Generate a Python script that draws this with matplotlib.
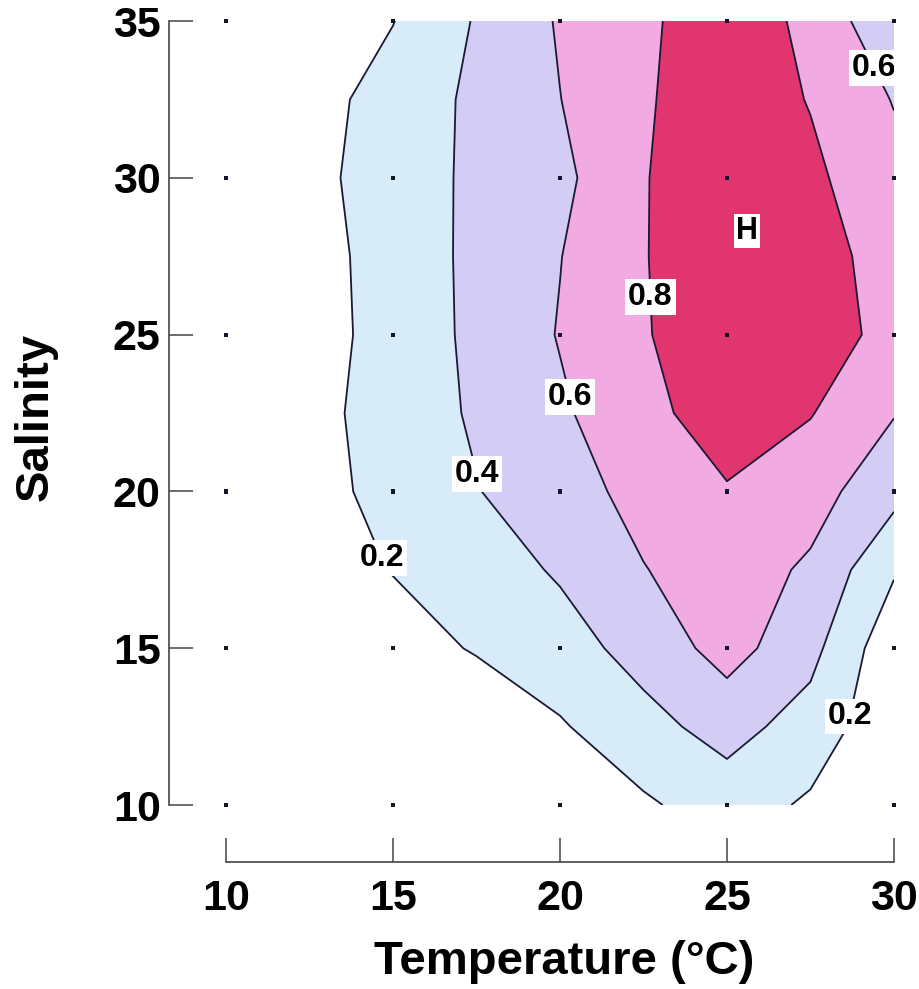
import matplotlib
matplotlib.use("Agg")
import matplotlib.pyplot as plt
import numpy as np

# grid of temperature (°C) and salinity used for the contour surface
temps = [10, 12.5, 15, 17.5, 20, 22.5, 25, 27.5, 30]
sals = [10, 12.5, 15, 17.5, 20, 22.5, 25, 27.5, 30, 32.5, 35]

# relative response, one row per salinity (low -> high)
s10 = [0.00, 0.00, 0.00, 0.01, 0.05, 0.17, 0.30, 0.17, 0.00]
s12_5 = [0.00, 0.00, 0.01, 0.05, 0.18, 0.34, 0.47, 0.32, 0.05]
s15 = [0.00, 0.02, 0.11, 0.217, 0.323, 0.468, 0.68, 0.46, 0.06]
s17_5 = [0.04, 0.106, 0.208, 0.31, 0.421, 0.593, 0.70, 0.57, 0.22]
s20 = [0.05, 0.132, 0.262, 0.392, 0.521, 0.66, 0.785, 0.68, 0.463]
s22_5 = [0.05, 0.14, 0.283, 0.426, 0.571, 0.743, 0.90, 0.81, 0.61]
s25 = [0.05, 0.115, 0.278, 0.443, 0.611, 0.785, 0.93, 0.88, 0.75]
s27_5 = [0.05, 0.12, 0.285, 0.445, 0.595, 0.79, 0.95, 0.90, 0.70]
s30 = [0.06, 0.144, 0.295, 0.44, 0.55, 0.79, 0.93, 0.84, 0.66]
s32_5 = [0.06, 0.125, 0.28, 0.44, 0.597, 0.778, 0.92, 0.79, 0.59]
s35 = [0.04, 0.10, 0.195, 0.416, 0.618, 0.77, 0.90, 0.76, 0.43]

# experimental treatment combinations (the dots)
obs_temps = [10, 15, 20, 25, 30]
obs_sals = [10, 15, 20, 25, 30, 35]

levels = [0.2, 0.4, 0.6, 0.8, 1.0]
fill_colors = ['#d7ebf8', '#d3cdf6', '#f1aae2', '#e0356e']

# where the contour labels sit
label_pos = [(14.5, 17.8), (17.3, 20.5), (20.3, 23.0), (22.7, 26.2),
             (29.2, 33.4), (28.35, 12.9)]
peak_pos = (25.6, 28.3)

plt.rcParams['font.family'] = ['Liberation Sans', 'DejaVu Sans']
plt.rcParams['font.weight'] = 'bold'

fig = plt.figure(figsize=(9.2, 9.89), dpi=100)
ax = fig.add_axes([0.2457, 0.186, 0.726, 0.7927])

T, S = np.meshgrid(temps, sals)
Z = np.array([s10, s12_5, s15, s17_5, s20, s22_5, s25, s27_5, s30, s32_5, s35])

ax.contourf(T, S, Z, levels=levels, colors=fill_colors)
cs = ax.contour(T, S, Z, levels=levels[:-1], colors='#1a1a33', linewidths=1.3)

texts = ax.clabel(cs, manual=label_pos, inline=False, fmt='%.1f', fontsize=23)
for t in texts:
    t.set_rotation(0)
    t.set_fontweight('bold')
    t.set_color('black')
    t.set_zorder(6)
    t.set_bbox(dict(facecolor='white', edgecolor='none', pad=2))

ax.text(peak_pos[0], peak_pos[1], 'H', ha='center', va='center', fontsize=22,
        fontweight='bold', zorder=6,
        bbox=dict(facecolor='white', edgecolor='none', pad=1.5))

OT, OS = np.meshgrid(obs_temps, obs_sals)
ax.scatter(OT.ravel(), OS.ravel(), marker='s', s=9, c='#15152a',
           edgecolors='none', zorder=5, clip_on=False)

ax.set_xlim(10, 30)
ax.set_ylim(10, 35)
ax.set_xticks(obs_temps)
ax.set_yticks(obs_sals)

for side in ['top', 'right']:
    ax.spines[side].set_visible(False)
for side in ['left', 'bottom']:
    ax.spines[side].set_position(('outward', 41))
    ax.spines[side].set_color('#444444')
    ax.spines[side].set_linewidth(1.2)
ax.spines['left'].set_bounds(10, 35)
ax.spines['bottom'].set_bounds(10, 30)

ax.tick_params(direction='in', length=17, width=1.1, color='#444444', labelsize=31)
ax.tick_params(axis='y', pad=6)
ax.tick_params(axis='x', pad=12)

ax.set_xlabel('Temperature (°C)', fontsize=34, fontweight='bold')
ax.set_ylabel('Salinity', fontsize=34, fontweight='bold')
ax.xaxis.set_label_coords(0.507, -0.172)
ax.yaxis.set_label_coords(-0.252, 0.495)

plt.savefig('out.png', dpi=100, facecolor='white')
